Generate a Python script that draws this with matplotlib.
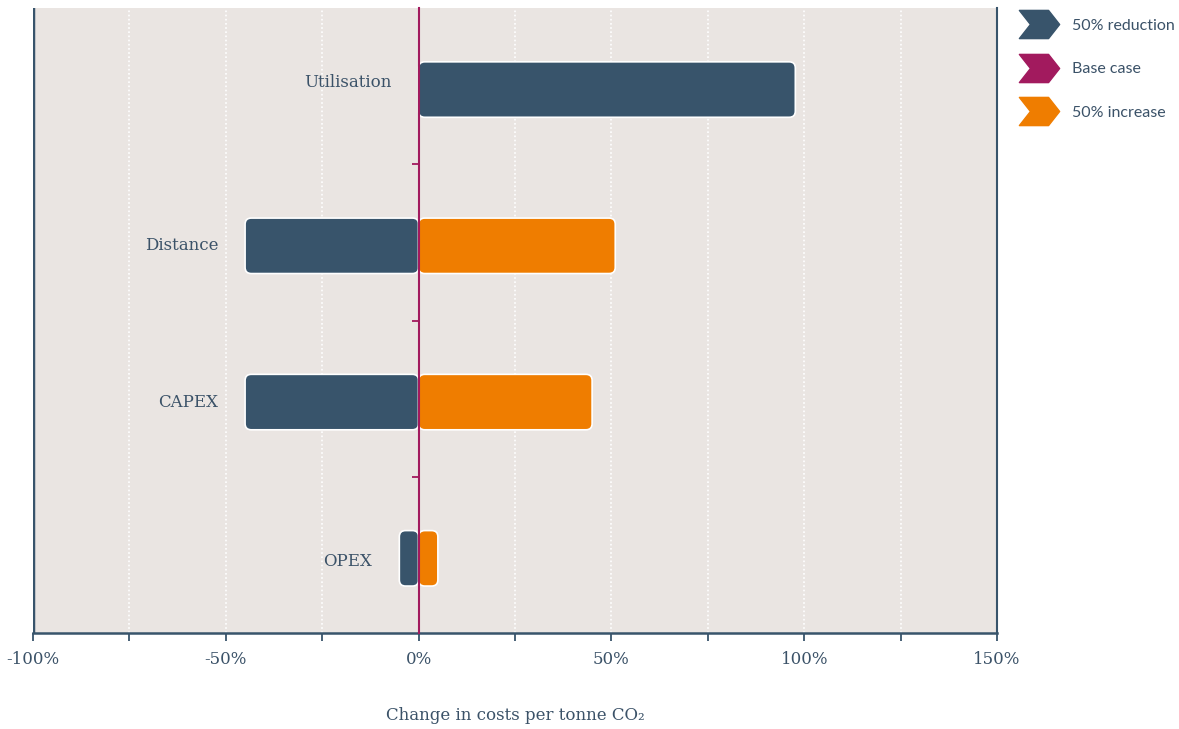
import matplotlib
matplotlib.use("Agg")
import matplotlib.pyplot as plt
from matplotlib.patches import FancyBboxPatch
from matplotlib.path import Path
from matplotlib.lines import Line2D

categories = ["Utilisation", "Distance", "CAPEX", "OPEX"]
reduction = [97.7, -45.0, -45.0, -5.0]
increase = [None, 51.0, 45.0, 5.0]
xticks = [-100, -50, 0, 50, 100, 150]
xtick_labels = ["-100%", "-50%", "0%", "50%", "100%", "150%"]
legend_labels = ["50% reduction", "Base case", "50% increase"]

C_RED = "#38546b"
C_BASE = "#a21a5e"
C_INC = "#ef7d00"
BG = "#eae5e2"
TXT = "#3b5268"
SERIF = ["DejaVu Serif"]

fig = plt.figure(figsize=(11.79, 7.29), dpi=100)
ax = fig.add_axes([33/1179, 1 - 633/729, (997-33)/1179, (633-8)/729])
ax.set_facecolor(BG)
ax.set_xlim(-100, 150)
ax.set_ylim(-0.5, 3.5)

ypos = [3, 2, 1, 0]
h = 0.355
yoff = -0.022
label_dy = [0.045, 0.0, 0.0, -0.02]
asp = (1/156.25) / (1/3.856)

def rbar(x0, w, y, color):
    left = min(x0, x0 + w)
    width = abs(w)
    p = FancyBboxPatch((left, y - h/2), width, h,
                       boxstyle="round,pad=0,rounding_size=1.6",
                       mutation_aspect=asp, facecolor=color,
                       edgecolor="white", linewidth=1.2, zorder=3)
    ax.add_patch(p)

for y, r, inc, cat, dy in zip(ypos, reduction, increase, categories, label_dy):
    rbar(0, r, y + yoff, C_RED)
    if inc is not None:
        rbar(0, inc, y + yoff, C_INC)
    left = min(0, r)
    ax.text(left - 7, y + yoff + dy, cat, ha="right", va="center",
            fontsize=12, color=TXT, family=SERIF, zorder=4)

for gx in [-75, -50, -25, 25, 50, 75, 100, 125]:
    ax.axvline(gx, color="white", linestyle=(0, (1, 1.5)), linewidth=1.2, zorder=1)

ax.spines["top"].set_visible(False)
ax.spines["bottom"].set_color(C_RED)
ax.spines["bottom"].set_linewidth(1.8)
ax.spines["right"].set_color(C_RED)
ax.spines["right"].set_linewidth(1.5)
ax.spines["left"].set_position(("data", 0))
ax.spines["left"].set_color(C_BASE)
ax.spines["left"].set_linewidth(1.5)
ax.spines["left"].set_zorder(5)
ax.axvline(-100, color=C_RED, linewidth=2.5, zorder=2)

ax.set_yticks([0.5, 1.5, 2.5])
ax.set_yticklabels([])
ax.tick_params(axis="y", length=5, width=1.3, color=C_BASE, direction="out")

ax.set_xticks(xticks)
ax.set_xticklabels(xtick_labels, fontsize=12, color=TXT, family=SERIF)
ax.set_xticks([-75, -25, 25, 75, 125], minor=True)
ax.tick_params(axis="x", which="both", length=6, width=1.3, color=C_RED, pad=7)
fig.text(515/1179, 1 - 716/729, "Change in costs per tonne CO\u2082", fontsize=12,
         color=TXT, family=SERIF, ha="center", va="center")

verts = [(-1, -0.7), (0.45, -0.7), (1, 0), (0.45, 0.7), (-1, 0.7), (-0.45, 0), (-1, -0.7)]
codes = [Path.MOVETO] + [Path.LINETO]*5 + [Path.CLOSEPOLY]
chev = Path(verts, codes)
handles = [Line2D([], [], marker=chev, linestyle="none", markersize=29,
                  markerfacecolor=c, markeredgecolor=c)
           for c in [C_RED, C_BASE, C_INC]]
leg = fig.legend(handles, legend_labels, loc="upper left",
                 bbox_to_anchor=(1012/1179, 1 - 12/729), frameon=False,
                 prop={"family": "Lato", "size": 11.5}, labelspacing=1.85,
                 handletextpad=0.78, handlelength=2.6, borderaxespad=0)
for t in leg.get_texts():
    t.set_color(TXT)

fig.savefig("out.png", dpi=100, facecolor="white")
